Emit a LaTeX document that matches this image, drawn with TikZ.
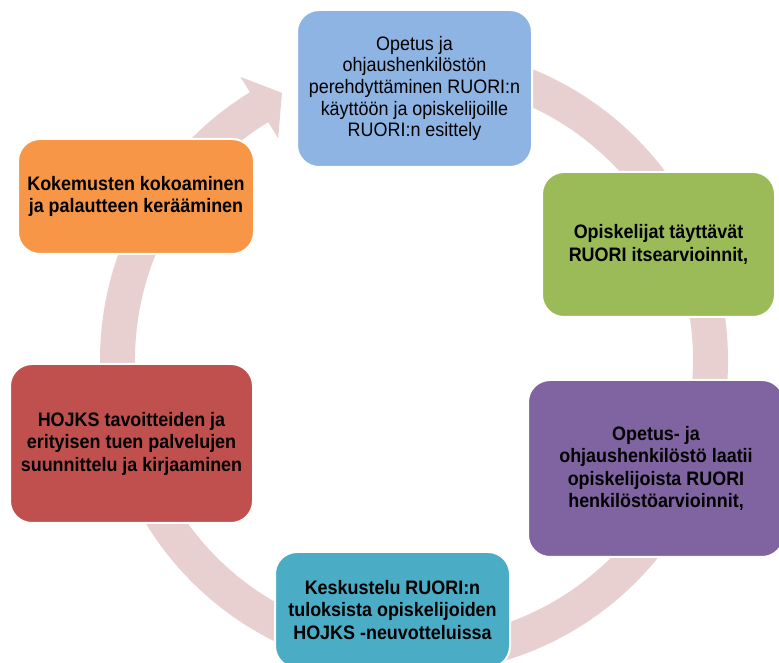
\documentclass[tikz,border=0pt]{standalone}
\usepackage{fontspec}
\setmainfont{Liberation Sans}[FakeStretch=0.92]
\definecolor{cblue}{HTML}{8EB4E3}
\definecolor{cgreen}{HTML}{9BBB59}
\definecolor{cpurple}{HTML}{8064A2}
\definecolor{cteal}{HTML}{4BACC6}
\definecolor{cred}{HTML}{C0504D}
\definecolor{corange}{HTML}{F79646}
\definecolor{cring}{HTML}{E8D0D1}
\tikzset{
  stepbox/.style={draw=white, line width=2pt, rounded corners=22pt, align=center,
    inner sep=2pt, font=\fontsize{19.5}{22.5}\selectfont\bfseries, text=black},
  plainbox/.style={stepbox, font=\fontsize{19.5}{21.7}\selectfont},
}
\begin{document}
\begin{tikzpicture}[x=1pt,y=1pt]
\path[use as bounding box, fill=white] (0,0) rectangle (779,663);
% circular band with arrow head
\begin{scope}[shift={(414,303)}]
\fill[cring] (455:314) arc[start angle=455, end angle=121.5, radius=314]
  -- (121.5:332) -- (116.3:298) -- (121.5:260) -- (121.5:279)
  arc[start angle=121.5, end angle=455, radius=279] -- cycle;
\end{scope}
% boxes
\node[plainbox, fill=cblue, minimum width=235pt, minimum height=157pt] (blue) at (414.5,574.5)
  {Opetus ja\\ohjaushenkilöstön\\perehdyttäminen RUORI:n\\käyttöön ja opiskelijoille\\RUORI:n esittely};
\node[stepbox, fill=cgreen, minimum width=233pt, minimum height=145pt] (green) at (658.5,418.5)
  {Opiskelijat täyttävät\\RUORI itsearvioinnit,};
\node[stepbox, fill=cpurple, minimum width=256pt, minimum height=177pt] (purple) at (656,194.5)
  {Opetus- ja\\ohjaushenkilöstö laatii\\opiskelijoista RUORI\\henkilöstöarvioinnit,};
\node[stepbox, fill=cteal, minimum width=235pt, minimum height=116pt] (teal) at (392.5,53)
  {Keskustelu RUORI:n\\tuloksista opiskelijoiden\\HOJKS -neuvotteluissa};
\node[stepbox, fill=cred, minimum width=243pt, minimum height=159pt] (red) at (131.5,219.5)
  {HOJKS tavoitteiden ja\\erityisen tuen palvelujen\\suunnittelu ja kirjaaminen};
\node[stepbox, fill=corange, minimum width=236pt, minimum height=115pt] (orange) at (136,466.5)
  {Kokemusten kokoaminen\\ja palautteen kerääminen};
\end{tikzpicture}
\end{document}
